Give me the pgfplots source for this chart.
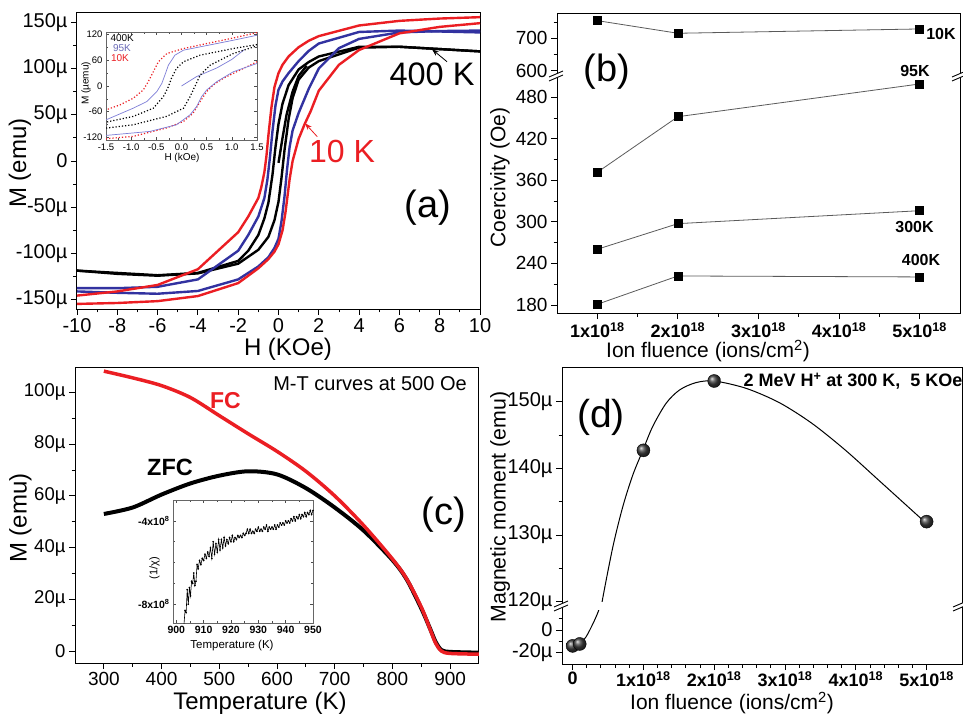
\documentclass[border=0pt]{standalone}
\usepackage{fontspec}
\setmainfont{Liberation Sans}
\usepackage{pgfplots}
\pgfplotsset{compat=1.18}
\usetikzlibrary{arrows.meta}
\definecolor{rd}{RGB}{235,30,35}
\definecolor{bl}{RGB}{50,50,160}
\definecolor{lbl}{RGB}{125,125,215}
\definecolor{ln}{RGB}{90,90,90}
\newcommand\fs[1]{\fontsize{#1}{#1}\selectfont}

\pgfplotsset{
  panel/.style={scale only axis, anchor=south west,
    axis line style={line width=1pt},
    tick align=outside, xtick pos=left, ytick pos=left,
    major tick length=6pt, minor tick length=3.5pt,
    every tick/.append style={line width=0.9pt, black},
    tick label style={font=\fs{20}},
    clip mode=individual},
  inset/.style={scale only axis, anchor=south west,
    axis background/.style={fill=white},
    axis line style={line width=0.6pt, black!60},
    tick align=inside, major tick length=3pt, minor tick length=1.8pt,
    every tick/.append style={line width=0.5pt, black!70},
    tick label style={font=\fs{9.5}},
    clip mode=individual},
}

\begin{document}
\begin{tikzpicture}[x=1pt,y=1pt]
\useasboundingbox (0,0) rectangle (963,716);

% ---------------- (a) M-H loops
\begin{axis}[panel, at={(77pt,407pt)}, width=403pt, height=296pt,
  xmin=-10, xmax=10, ymin=-160, ymax=160,
  xtick={-10,-8,-6,-4,-2,0,2,4,6,8,10},
  xticklabels={-10,-8,-6,-4,-2,0,2,4,6,8,10},
  ytick={-150,-100,-50,0,50,100,150},
  yticklabels={-150µ,-100µ,-50µ,0,50µ,100µ,150µ},
  minor x tick num=1, minor y tick num=1]
% 400 K
\addplot[black, line width=2.4pt] coordinates {(10,118.5) (8,121) (6,123.5) (4,123.5) (2,113) (1.5,107) (1,99) (0.5,82) (0.2,62) (0,40) (-0.15,15) (-0.3,-15) (-0.5,-45) (-0.7,-62) (-1,-80) (-1.5,-97) (-2,-108) (-4,-121) (-6,-123.5) (-8,-121) (-10,-118.5)};
\addplot[black, line width=2.4pt] coordinates {(-10,-118.5) (-8,-122) (-6,-124) (-4,-121.5) (-2,-111) (-1,-96) (-0.5,-82) (-0.2,-64) (0,-44) (0.15,-18) (0.3,12) (0.5,45) (0.7,68) (1,88) (1.5,101) (2,108) (4,122.5) (6,123.5) (8,121) (10,118.5)};
\addplot[black, line width=2.4pt] coordinates {(0,-2) (0.2,25) (0.4,50) (0.7,75) (1,92) (1.4,103)};
% 95 K
\addplot[bl, line width=2.4pt] coordinates {(10,139) (8,140) (6,141) (4,139.5) (2,127) (1.5,119) (1,108) (0.5,95) (0.2,86) (0,77) (-0.15,60) (-0.3,32) (-0.42,5) (-0.55,-20) (-0.7,-40) (-1,-60) (-1.5,-80) (-2,-97) (-4,-128) (-6,-136) (-8,-137.5) (-10,-137.5)};
\addplot[bl, line width=2.4pt] coordinates {(-10,-141) (-8,-142.5) (-6,-143.5) (-4,-140.5) (-2,-128) (-1,-114) (-0.5,-104) (-0.2,-94) (0,-84) (0.15,-65) (0.3,-38) (0.42,-10) (0.55,15) (0.7,33) (1,52) (1.5,78) (2,100) (3,122) (4,132) (6,139) (8,140.5) (10,141)};
% 10 K
\addplot[rd, line width=2.4pt] coordinates {(10,155.5) (8,154) (6,151.5) (4,146.5) (2,135) (1.5,130) (1,123) (0.5,113) (0.2,104) (0,95) (-0.2,80) (-0.35,58) (-0.5,28) (-0.6,5) (-0.7,-12) (-0.85,-28) (-1,-40) (-1.5,-60) (-2,-77) (-4,-117) (-6,-134) (-8,-141) (-10,-145.5)};
\addplot[rd, line width=2.4pt] coordinates {(-10,-154.5) (-8,-153.5) (-6,-151.5) (-4,-146) (-2,-132) (-1,-116) (-0.5,-106) (-0.2,-98) (0,-90) (0.2,-75) (0.35,-55) (0.55,-20) (0.7,0) (0.85,12) (1,24) (1.3,40) (1.6,54) (2,76) (2.5,90) (3,104) (4,120) (6,138) (8,145) (10,149)};
\end{axis}

\begin{axis}[inset, at={(106pt,576pt)}, width=151pt, height=108pt,
  xmin=-1.5, xmax=1.5, ymin=-126, ymax=126,
  xtick={-1.5,-1,-0.5,0,0.5,1,1.5},
  xticklabels={-1.5,-1.0,-0.5,0.0,0.5,1.0,1.5},
  ytick={-120,-60,0,60,120}, yticklabels={-120,-60,0,60,120},
  minor x tick num=1, minor y tick num=1]
\addplot[rd, dotted, line width=1.2pt] coordinates {(1.5,124.6) (1.03,112) (0.5,99) (0.04,87.4) (-0.29,75.8) (-0.46,56.5) (-0.56,33.3) (-0.66,10) (-0.76,-9.3) (-0.96,-28.6) (-1.22,-44) (-1.5,-55.7)};
\addplot[rd, dotted, line width=1.2pt] coordinates {(-1.5,-123) (-0.96,-117.6) (-0.3,-98) (0.04,-82.8) (0.23,-63.4) (0.37,-36.4) (0.5,-13) (0.63,2.3) (0.83,17.8) (1.16,37) (1.5,56.5)};
\addplot[lbl, line width=0.7pt] coordinates {(1.5,118.4) (1.03,106.8) (0.37,91.3) (0.04,83.6) (-0.13,72) (-0.26,48.7) (-0.33,25.5) (-0.39,6.2) (-0.49,-13) (-0.69,-36.4) (-0.96,-51.8) (-1.5,-79)};
\addplot[lbl, line width=0.7pt] coordinates {(-1.5,-115.3) (-0.63,-106) (-0.1,-90.5) (0.17,-67.3) (0.3,-48) (0.4,-24.8) (0.5,-9.3) (0.7,10) (1.03,33.3) (1.5,52.6)};
\addplot[lbl, line width=0.7pt] coordinates {(0,0) (0.3,22) (0.7,42) (1.0,62) (1.25,85)};
\addplot[black, dotted, line width=1.2pt] coordinates {(1.5,96.7) (1.03,87.4) (0.37,72) (0.04,56.5) (-0.1,41) (-0.2,17.8) (-0.26,-1.5) (-0.36,-24.8) (-0.56,-51.8) (-0.96,-71) (-1.5,-84.3)};
\addplot[black, dotted, line width=1.2pt] coordinates {(-1.5,-98.3) (-0.96,-90.5) (-0.3,-71) (0.04,-51.8) (0.17,-24.8) (0.27,0) (0.37,25.5) (0.57,48.7) (1.03,75.8) (1.5,93.6)};
\end{axis}

\node[rotate=90, font=\fs{24}] at (20,553) {M (emu)};
\node[font=\fs{24}, inner sep=0pt] at (288,367) {H (KOe)};
\node[font=\fs{32.5}] at (432,641.5) {400 K};
\node[font=\fs{32}, text=rd] at (342,564.5) {10 K};
\node[font=\fs{38}] at (428,508) {(a)};
\draw[-{Stealth[length=7pt,width=5pt]}, line width=0.8pt] (447,654.3) -- (432,666.7);
\draw[rd, -{Stealth[length=7pt,width=5pt]}, line width=0.8pt] (317.3,579.3) -- (305,592.7);
\node[rotate=90, font=\fs{10}] at (86,632.5) {M (µemu)};
\node[font=\fs{10}] at (182,558) {H (kOe)};
\node[anchor=west, font=\fs{10}] at (107,678) {400K};
\node[anchor=west, font=\fs{10}, text=lbl!85!black] at (109.5,668) {95K};
\node[anchor=west, font=\fs{10}, text=rd] at (107.5,658) {10K};

% ---------------- (b) coercivity
\begin{axis}[panel, at={(557pt,403pt)}, width=403pt, height=237pt,
  xmin=0.5, xmax=5.5, ymin=168.4, ymax=510.8,
  xtick={1,2,3,4,5},
  xticklabels={1x10\textsuperscript{18},2x10\textsuperscript{18},3x10\textsuperscript{18},4x10\textsuperscript{18},5x10\textsuperscript{18}},
  minor x tick num=1,
  ytick={180,240,300,360,420,480}, yticklabels={180,240,300,360,420,480},
  minor y tick num=1,
  yticklabel style={font=\fs{19}}, xticklabel style={font=\bfseries\fs{18}}]
\addplot[ln, line width=0.8pt, mark=square*, mark size=4pt, mark options={black}] coordinates {(1,371.7) (2,452) (5,499.3)};
\addplot[ln, line width=0.8pt, mark=square*, mark size=4pt, mark options={black}] coordinates {(1,260.5) (2,297.5) (5,316.2)};
\addplot[ln, line width=0.8pt, mark=square*, mark size=4pt, mark options={black}] coordinates {(1,181) (2,221.9) (5,220.5)};
\end{axis}
\begin{axis}[panel, at={(557pt,640pt)}, width=403pt, height=62pt,
  xmin=0.5, xmax=5.5, ymin=583.6, ymax=775, xtick=\empty,
  ytick={600,700}, yticklabels={600,700}, minor ytick={650,750},
  yticklabel style={font=\fs{19}}]
\addplot[ln, line width=0.8pt, mark=square*, mark size=4pt, mark options={black}] coordinates {(1,754.5) (2,715.5) (5,728.8)};
\end{axis}
\fill[white] (558,637.5) rectangle (959,642.5);
\foreach \xx in {557,960} {
  \fill[white] (\xx-8,635) -- (\xx+6,641) -- (\xx+6,645) -- (\xx-8,639) -- cycle;
  \draw[line width=0.9pt] (\xx-8,635) -- (\xx+6,641);
  \draw[line width=0.9pt] (\xx-8,639) -- (\xx+6,645);
}
\node[font=\fs{38}] at (607,644) {(b)};
\node[rotate=90, font=\fs{21}] at (500,538.5) {Coercivity (Oe)};
\node[font=\fs{21}, inner sep=0pt] at (708,365) {Ion fluence (ions/cm\textsuperscript{2})};
\node[font=\bfseries\fs{16}] at (941,682) {10K};
\node[font=\bfseries\fs{16}] at (915,645) {95K};
\node[font=\bfseries\fs{16}] at (914.5,488.5) {300K};
\node[font=\bfseries\fs{16}] at (921,456) {400K};

% ---------------- (c) M-T
\begin{axis}[panel, at={(75pt,53pt)}, width=404pt, height=296pt,
  xmin=250, xmax=950, ymin=-4.6, ymax=109.8,
  xtick={300,400,500,600,700,800,900}, xticklabels={300,400,500,600,700,800,900},
  ytick={0,20,40,60,80,100}, yticklabels={0,20µ,40µ,60µ,80µ,100µ},
  minor x tick num=1, minor y tick num=1,
  xticklabel style={font=\fs{19}}, yticklabel style={font=\fs{18.5}}]
\addplot[black, line width=4pt, smooth] coordinates {(300,53) (350,55.5) (400,60.5) (450,64.8) (500,67.8) (550,69.5) (600,68.3) (650,63) (700,55.5) (750,46.6) (800,35.2) (825,27.6) (850,16.5) (865,8.8) (875,3.5) (885,0.4) (900,-0.3) (950,-0.6)};
\addplot[rd, line width=3.5pt, smooth] coordinates {(300,108.2) (350,105.6) (400,102.6) (450,98) (500,91) (550,84) (600,77.2) (650,69.5) (700,60) (750,48.6) (800,35.6) (825,27.8) (850,17) (865,8.6) (875,3) (885,0) (900,-0.9) (950,-1.2)};
\end{axis}
\begin{axis}[inset, at={(173pt,93pt)}, width=140pt, height=123pt,
  xmin=898.8, xmax=950, ymin=-8.9, ymax=-3,
  xtick={900,910,920,930,940,950}, xticklabels={900,910,920,930,940,950},
  minor x tick num=1,
  ytick={-8,-4}, yticklabels={-8x10\textsuperscript{8},-4x10\textsuperscript{8}},
  minor ytick={-7,-6,-5,-3},
  tick label style={font=\bfseries\fs{10.5}}]
\addplot[black, line width=0.6pt, mark=*, mark size=0.5pt] coordinates {
(902.8,-9.0) (903.2,-8.3) (903.6,-8.4) (904.0,-7.3) (904.4,-8.0) (904.8,-7.2) (905.2,-7.6) (905.6,-6.9) (906.0,-7.0) (906.4,-6.5) (906.8,-7.1) (907.2,-6.9) (907.6,-6.1) (908.0,-6.3) (908.5,-5.9) (909.0,-6.1) (909.5,-5.8) (910.0,-5.9) (910.5,-5.6) (911.0,-5.8) (911.5,-5.5) (912.0,-5.7) (912.5,-5.3) (913.0,-5.8) (913.5,-5.0) (914.0,-5.6) (914.5,-5.1) (915.0,-5.5) (915.5,-4.9) (916.0,-5.4) (916.5,-4.9) (917.0,-5.3) (917.5,-4.8) (918.0,-5.2) (918.5,-4.9) (919.0,-5.1) (919.5,-4.8) (920.0,-5.0) (920.5,-4.7) (921.0,-5.0) (921.5,-4.8) (922.0,-4.9) (922.5,-4.7) (923.0,-4.8) (923.5,-4.7) (924.0,-4.8) (924.5,-4.6) (925.0,-4.7) (925.5,-4.6) (926.0,-4.4) (926.5,-4.6) (927.0,-4.4) (927.5,-4.6) (928.0,-4.5) (928.5,-4.6) (929.0,-4.4) (929.5,-4.5) (930.0,-4.3) (930.5,-4.5) (931.0,-4.4) (931.5,-4.5) (932.0,-4.3) (932.5,-4.4) (933.0,-4.2) (933.5,-4.5) (934.0,-4.3) (934.5,-4.4) (935.0,-4.3) (935.5,-4.4) (936.0,-4.2) (936.5,-4.4) (937.0,-4.2) (937.5,-4.3) (938.0,-4.1) (938.5,-4.2) (939.0,-4.1) (939.5,-4.2) (940.0,-4.0) (940.5,-4.1) (941.0,-4.0) (941.5,-4.1) (942.0,-3.9) (942.5,-4.0) (943.0,-3.8) (943.5,-4.0) (944.0,-3.8) (944.5,-3.9) (945.0,-3.7) (945.5,-3.9) (946.0,-3.7) (946.5,-3.8) (947.0,-3.6) (947.5,-3.8) (948.0,-3.6) (948.5,-3.7) (949.0,-3.5) (949.5,-3.7) (950.0,-3.5)};
\end{axis}
\node[rotate=90, font=\fs{24}] at (20.5,198) {M (emu)};
\node[font=\fs{24}, inner sep=0pt] at (260,13) {Temperature (K)};
\node[font=\fs{20}] at (370,332.5) {M-T curves at 500 Oe};
\node[font=\bfseries\fs{23}, text=rd] at (225.5,315) {FC};
\node[font=\bfseries\fs{23.5}] at (170,249) {ZFC};
\node[font=\fs{38}] at (444,201) {(c)};
\node[rotate=90, font=\fs{11}] at (154.5,148) {(1/χ)};
\node[font=\fs{11.5}] at (232,70) {Temperature (K)};

% ---------------- (d) magnetic moment vs fluence
\begin{axis}[panel, at={(562pt,110pt)}, width=400pt, height=238pt,
  xmin=-0.15, xmax=5.5, ymin=119.35, ymax=155.05, xtick=\empty,
  ytick={120,130,140,150}, yticklabels={120µ,130µ,140µ,150µ},
  minor y tick num=1]
\addplot[black, line width=1pt, smooth] coordinates {(0.38,117) (0.42,120.2) (0.57,128.3) (0.71,134.3) (0.85,139) (0.99,142.65) (1.13,146.25) (1.32,149.75) (1.51,151.75) (1.74,152.85) (2,153.1) (2.45,152) (2.92,149.85) (3.38,146.75) (3.85,142.75) (4.32,138.25) (4.98,131.9)};
\addplot[only marks, mark=ball, mark size=6.5pt, mark options={ball color=black!75}] coordinates {(1,142.7) (2,153.1) (5,132)};
\end{axis}
\begin{axis}[panel, at={(562pt,52pt)}, width=400pt, height=58pt,
  xmin=-0.15, xmax=5.5, ymin=-30, ymax=21.2,
  xtick={0,1,2,3,4,5},
  xticklabels={0,1x10\textsuperscript{18},2x10\textsuperscript{18},3x10\textsuperscript{18},4x10\textsuperscript{18},5x10\textsuperscript{18}},
  minor x tick num=4,
  ytick={-20,0}, yticklabels={-20µ,0}, minor ytick={-10,10},
  xticklabel style={font=\bfseries\fs{18}, inner sep=1.5pt}]
\addplot[black, line width=1pt, smooth] coordinates {(0,-14) (0.1,-12.3) (0.19,-6) (0.29,6) (0.36,16) (0.40,24)};
\addplot[only marks, mark=ball, mark size=6.5pt, mark options={ball color=black!75}] coordinates {(0,-14) (0.1,-12.3)};
\end{axis}
\fill[white] (563,106) rectangle (961,114);
\foreach \xx in {562,961} {
  \fill[white] (\xx-8,105) -- (\xx+6,111) -- (\xx+6,115) -- (\xx-8,109) -- cycle;
  \draw[line width=0.9pt] (\xx-8,105) -- (\xx+6,111);
  \draw[line width=0.9pt] (\xx-8,109) -- (\xx+6,115);
}
\node[font=\fs{39}] at (601,298.5) {(d)};
\node[rotate=90, font=\fs{21.3}] at (500,209) {Magnetic moment (emu)};
\node[font=\fs{21}, inner sep=0pt] at (732,13) {Ion fluence (ions/cm\textsuperscript{2})};
\node[font=\bfseries\fs{18}] at (853,335) {2 MeV H\textsuperscript{+} at 300 K,\ \ 5 KOe};
\end{tikzpicture}
\end{document}
